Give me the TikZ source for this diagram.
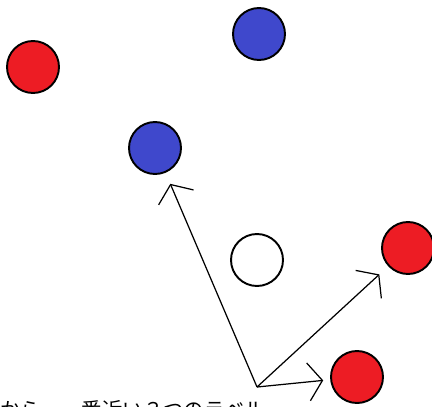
\documentclass[tikz,border=0pt]{standalone}
\usepackage{fontspec}
\newfontfamily\jpfont{Noto Sans CJK JP}
\usetikzlibrary{arrows.meta}
\definecolor{redpt}{RGB}{237,28,36}
\definecolor{bluept}{RGB}{63,72,204}
\begin{document}
\begin{tikzpicture}[x=0.02cm,y=-0.02cm,
  pt/.style={circle,draw=black,line width=1.1pt,minimum size=1.04cm,inner sep=0pt},
  pointer/.style={-{Straight Barb[length=0.28cm,width=0.76cm]},line width=0.7pt,shorten >=0.24cm}]
\useasboundingbox (0,0) rectangle (432,406);
\node[pt,fill=redpt] (r1) at (33,67) {};
\node[pt,fill=bluept] (b1) at (259,34) {};
\node[pt,fill=bluept] (b2) at (155,148) {};
\node[pt,fill=white] (q0) at (257,260) {};
\node[pt,fill=redpt] (r2) at (408,248) {};
\node[pt,fill=redpt] (r3) at (357,377) {};
\coordinate (o) at (257,387);
\draw[pointer] (o) -- (b2);
\draw[pointer] (o) -- (r2);
\draw[pointer,shorten >=0.14cm] (o) -- (r3);
% caption runs off the bottom edge, as in the original
\node[anchor=north west,inner sep=0pt,font=\jpfont\fontsize{11.6}{13}\selectfont] (cap) at (0,400) {から、一番近い３つのラベル};
\end{tikzpicture}
\end{document}
